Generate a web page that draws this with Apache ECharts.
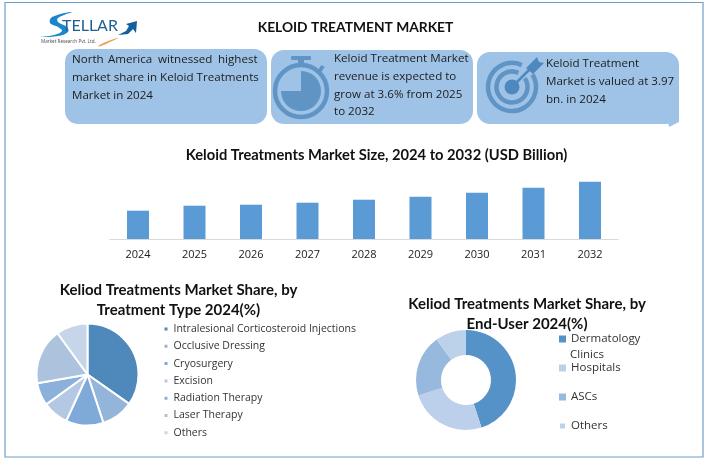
<!DOCTYPE html>
<html><head><meta charset="utf-8">
<style>html,body{margin:0;padding:0;background:#fff}#c{width:709px;height:463px}</style>
<script src="https://cdn.jsdelivr.net/npm/echarts@6/dist/echarts.min.js"></script>
</head><body><div id="c"></div>
<script>
const years = ['2024','2025','2026','2027','2028','2029','2030','2031','2032'];
const marketSize = [3.97,4.67,4.81,5.09,5.51,5.93,6.49,7.19,8.03];
const treatmentTypes = ['Intralesional Corticosteroid Injections','Occlusive Dressing','Cryosurgery','Excision','Radiation Therapy','Laser Therapy','Others'];
const treatmentShare = [34.8,10.2,11.9,8.2,7.2,17.8,10];
const treatmentColors = ['#4f88bb','#93b5da','#7fa9d9','#b4c8e3','#8bb0d9','#adc3dd','#c6d6e8'];
const endUsers = ['Dermatology Clinics','Hospitals','ASCs','Others'];
const endUserShare = [45,25,20,10];
const endUserColors = ['#5592c8','#bcd0eb','#97b9dd','#bcd2ea'];
const mainTitle = 'KELOID TREATMENT MARKET';
const barTitle = 'Keloid Treatments Market Size, 2024 to 2032 (USD Billion)';
const pieTitle = 'Keliod Treatments Market Share, by\nTreatment Type 2024(%)';
const donutTitle = 'Keliod Treatments Market Share, by\nEnd-User 2024(%)';
const note2 = ['Keloid Treatment Market','revenue is expected to','grow at 3.6% from 2025','to 2032'];
const note3 = ['Keloid Treatment','Market is valued at 3.97','bn. in 2024'];

const BODY = '"Open Sans"', HEAD = 'Lato';
const BUBBLE = '#9fc3e6', ICON = '#5f94c5', ICON2 = '#4f88bd';
const txt = (s,x,y,o={}) => ({type:'text',x,y,z:5,style:Object.assign({text:s,fill:'#1c1c1c',font:'11.6px '+BODY,textVerticalAlign:'middle',textBaseline:'middle'},o)});
const bubble = (x,y,w,h) => ({type:'rect',shape:{x,y,width:w,height:h,r:13},style:{fill:BUBBLE},z:1});

const graphics = [
  {type:'rect',shape:{x:5,y:2.5,width:698,height:454.5},style:{fill:'none',stroke:'#6f9dc9',lineWidth:1.2},z:0},
  bubble(65,49,202,75), bubble(271,50,202,74), bubble(477,52,202,72),
  {type:'polygon',shape:{points:[[668,120],[679,112],[679,122],[669,127]]},style:{fill:BUBBLE},z:1},
  txt('North',72,60), txt('America',108,60), txt('witnessed',158,60), txt('highest',218,60),
  txt('market share in Keloid Treatments',72,78), txt('Market in 2024',72,96),
  ...note2.map((s,i)=>txt(s,334,59+i*17.7)),
  ...note3.map((s,i)=>txt(s,546,64+i*18)),
  // stopwatch
  {type:'circle',shape:{cx:301,cy:91,r:26},style:{fill:'none',stroke:ICON,lineWidth:4.5},z:2},
  {type:'sector',shape:{cx:301,cy:91,r:20,r0:0,startAngle:-Math.PI/2,endAngle:Math.PI,clockwise:true},style:{fill:ICON},z:2},
  {type:'rect',shape:{x:298,y:59,width:6,height:7},style:{fill:ICON},z:2},
  {type:'rect',shape:{x:291,y:56,width:20,height:4,r:1},style:{fill:ICON},z:2},
  {type:'line',shape:{x1:319,y1:72,x2:323,y2:66},style:{stroke:ICON,lineWidth:4},z:2},
  // target
  {type:'arc',shape:{cx:512,cy:87,r:24,startAngle:-0.55,endAngle:-1.15,clockwise:true},style:{fill:'none',stroke:ICON,lineWidth:4.5},z:2},
  {type:'arc',shape:{cx:512,cy:87,r:15.5,startAngle:-0.6,endAngle:-1.15,clockwise:true},style:{fill:'none',stroke:ICON,lineWidth:4.5},z:2},
  {type:'circle',shape:{cx:512,cy:87,r:7.5},style:{fill:ICON2},z:2},
  {type:'line',shape:{x1:512,y1:87,x2:533,y2:66},style:{stroke:ICON2,lineWidth:2.5},z:2},
  {type:'polygon',shape:{points:[[526,68],[537,57],[539,62],[544,63],[533,74]]},style:{fill:ICON2},z:2},
  // logo
  {type:'polygon',shape:{smooth:0.4,points:[[40,37],[54,35],[62,31],[58,27],[50,23],[52,17],[72,12],[58,18],[58,22],[67,27],[68,32],[58,36]]},style:{fill:'#1c86cb'},z:3},
  {type:'polygon',shape:{smooth:0.4,points:[[98,46],[108,41],[118,38],[108,43],[101,46]]},style:{fill:'#e8a45a'},z:3},
  {type:'polygon',shape:{points:[[118,35],[126,31],[129,26],[126,24],[137,21],[136,33],[133,29],[128,34]]},style:{fill:'#14609c'},z:3},
  {type:'text',x:62,y:26,z:3,style:{text:'TELLAR',fill:'#1f6091',font:'16px Lato',textBaseline:'middle',textVerticalAlign:'middle'}},
  {type:'text',x:41,y:42,z:3,style:{text:'Market Research Pvt. Ltd.',fill:'#555',font:'4.6px "Noto Sans"',textBaseline:'middle',textVerticalAlign:'middle'}},
  {type:'text',x:570,y:354.5,z:5,style:{text:'Clinics',fill:'#333',font:'11.5px '+BODY,textBaseline:'middle',textVerticalAlign:'middle'}}
];

const titleStyle = {fontFamily:HEAD,fontWeight:'bold',color:'#111'};
const option = {
  animation:false,
  backgroundColor:'#fff',
  title:[
    {text:mainTitle,left:350.5,top:14,textAlign:'center',textStyle:{...titleStyle,fontSize:13.8,lineHeight:17}},
    {text:barTitle,left:371.5,top:141,textAlign:'center',textStyle:{...titleStyle,fontSize:14.7,lineHeight:18}},
    {text:pieTitle,left:173.5,top:275,textAlign:'center',textStyle:{...titleStyle,fontSize:15,lineHeight:20}},
    {text:donutTitle,left:522,top:289,textAlign:'center',textStyle:{...titleStyle,fontSize:15,lineHeight:20}}
  ],
  grid:{left:109.75,width:508.5,top:167.7,height:71.3},
  xAxis:{type:'category',data:years,axisTick:{show:false},
    axisLine:{lineStyle:{color:'#d9d9d9',width:1}},
    axisLabel:{color:'#1c1c1c',fontFamily:BODY,fontSize:11,margin:10}},
  yAxis:{type:'value',min:0,max:10,show:false,splitLine:{show:false}},
  legend:[
    {left:162.5,top:323,padding:0,orient:'vertical',itemWidth:5,itemHeight:5,itemGap:5.3,icon:'rect',selectedMode:false,
     textStyle:{color:'#333',fontFamily:BODY,fontSize:10.5,lineHeight:12},
     data:treatmentTypes.map((n,i)=>({name:n,itemStyle:{color:treatmentColors[i]}}))},
    {left:558,top:332,padding:0,orient:'vertical',itemWidth:7,itemHeight:7,itemGap:15,icon:'rect',selectedMode:false,
     formatter:n=>n.split(' ')[0],
     textStyle:{color:'#333',fontFamily:BODY,fontSize:11.5,lineHeight:14},
     data:endUsers.map((n,i)=>({name:n,itemStyle:{color:endUserColors[i]}}))}
  ],
  series:[
    {type:'bar',data:marketSize,barWidth:22,itemStyle:{color:'#5b9bd5'}},
    {type:'pie',center:[87.5,374.5],radius:[0,51],startAngle:90,clockwise:true,label:{show:false},
     itemStyle:{borderColor:'#fff',borderWidth:2},
     data:treatmentTypes.map((n,i)=>({name:n,value:treatmentShare[i],itemStyle:{color:treatmentColors[i]}}))},
    {type:'pie',center:[466,380],radius:[25,50],startAngle:90,clockwise:true,label:{show:false},
     data:endUsers.map((n,i)=>({name:n,value:endUserShare[i],itemStyle:{color:endUserColors[i]}}))}
  ],
  graphic:{elements:graphics}
};
const chart = echarts.init(document.getElementById('c'),null,{renderer:'canvas'});
chart.setOption(option);
</script></body></html>
